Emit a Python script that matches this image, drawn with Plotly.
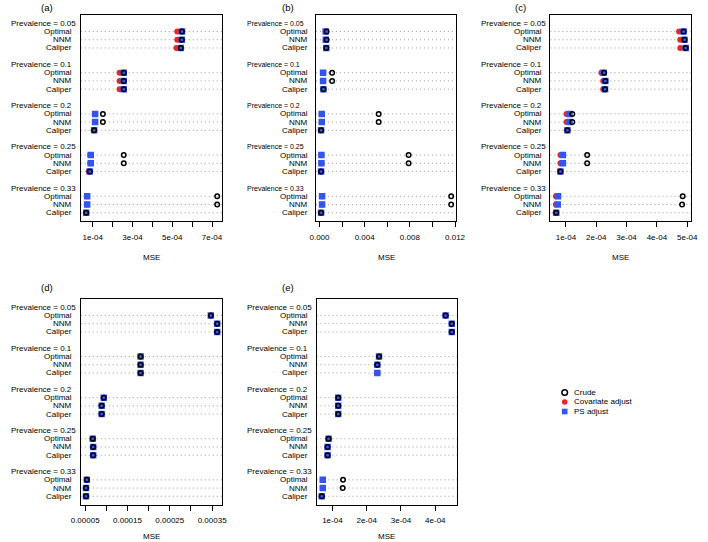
import plotly.graph_objects as go

W, H = 708, 542
FONT = "Liberation Sans, Arial, Helvetica, sans-serif"
RED = "#E62828"
BLUE = "#3355EE"
DOT = "#9a9a9a"

prevalence = ["0.05", "0.1", "0.2", "0.25", "0.33"]
methods = ["Optimal", "NNM", "Caliper"]
panel_labels = ["(a)", "(b)", "(c)", "(d)", "(e)"]
legend_names = ["Crude", "Covariate adjust", "PS adjust"]

# values: for each prevalence (top to bottom) -> Optimal, NNM, Caliper
a_crude = [5.49e-4, 5.48e-4, 5.43e-4, 2.56e-4, 2.56e-4, 2.56e-4, 1.51e-4, 1.51e-4, 1.07e-4,
           2.56e-4, 2.56e-4, 0.85e-4, 7.26e-4, 7.26e-4, 0.67e-4]
a_cov = [5.25e-4, 5.25e-4, 5.21e-4, 2.35e-4, 2.35e-4, 2.35e-4, 1.10e-4, 1.10e-4, 1.05e-4,
         0.87e-4, 0.87e-4, 0.80e-4, 0.70e-4, 0.70e-4, 0.66e-4]
a_ps = [5.49e-4, 5.48e-4, 5.43e-4, 2.56e-4, 2.56e-4, 2.56e-4, 1.12e-4, 1.12e-4, 1.07e-4,
        0.90e-4, 0.90e-4, 0.85e-4, 0.72e-4, 0.72e-4, 0.67e-4]

b_crude = [0.00063, 0.00063, 0.00060, 0.00112, 0.00112, 0.00035, 0.00524, 0.00524, 0.00014,
           0.00789, 0.00789, 0.00014, 0.01166, 0.01166, 0.00014]
b_cov = [0.00055, 0.00056, 0.00060, 0.00032, 0.00032, 0.00035, 0.00020, 0.00020, 0.00014,
         0.00017, 0.00017, 0.00014, 0.00023, 0.00023, 0.00014]
b_ps = [0.00055, 0.00056, 0.00060, 0.00032, 0.00032, 0.00035, 0.00020, 0.00020, 0.00014,
        0.00017, 0.00017, 0.00014, 0.00023, 0.00023, 0.00014]

c_crude = [4.88e-4, 4.91e-4, 4.95e-4, 2.26e-4, 2.30e-4, 2.29e-4, 1.21e-4, 1.21e-4, 1.05e-4,
           1.70e-4, 1.70e-4, 0.82e-4, 4.85e-4, 4.83e-4, 0.68e-4]
c_cov = [4.73e-4, 4.77e-4, 4.77e-4, 2.17e-4, 2.23e-4, 2.23e-4, 1.02e-4, 1.02e-4, 1.03e-4,
         0.82e-4, 0.82e-4, 0.80e-4, 0.67e-4, 0.67e-4, 0.66e-4]
c_ps = [4.88e-4, 4.91e-4, 4.95e-4, 2.24e-4, 2.30e-4, 2.29e-4, 1.12e-4, 1.12e-4, 1.05e-4,
        0.90e-4, 0.90e-4, 0.82e-4, 0.74e-4, 0.73e-4, 0.68e-4]

d_crude = [3.47e-4, 3.62e-4, 3.62e-4, 1.81e-4, 1.81e-4, 1.81e-4, 0.94e-4, 0.89e-4, 0.89e-4,
           0.68e-4, 0.69e-4, 0.69e-4, 0.54e-4, 0.52e-4, 0.52e-4]
d_cov = [3.47e-4, 3.62e-4, 3.62e-4, 1.81e-4, 1.81e-4, 1.81e-4, 0.94e-4, 0.89e-4, 0.89e-4,
         0.68e-4, 0.69e-4, 0.69e-4, 0.54e-4, 0.52e-4, 0.52e-4]
d_ps = [3.47e-4, 3.62e-4, 3.62e-4, 1.81e-4, 1.81e-4, 1.81e-4, 0.94e-4, 0.89e-4, 0.89e-4,
        0.68e-4, 0.69e-4, 0.69e-4, 0.54e-4, 0.52e-4, 0.52e-4]

e_crude = [4.30e-4, 4.48e-4, 4.48e-4, 2.36e-4, 2.31e-4, None, 1.17e-4, 1.17e-4, 1.17e-4,
           0.89e-4, 0.86e-4, 0.86e-4, 1.31e-4, 1.30e-4, 0.69e-4]
e_cov = [4.30e-4, 4.48e-4, 4.48e-4, 2.36e-4, 2.31e-4, 2.31e-4, 1.17e-4, 1.17e-4, 1.17e-4,
         0.89e-4, 0.86e-4, 0.86e-4, 0.72e-4, 0.72e-4, 0.69e-4]
e_ps = [4.30e-4, 4.48e-4, 4.48e-4, 2.36e-4, 2.31e-4, 2.31e-4, 1.17e-4, 1.17e-4, 1.17e-4,
        0.89e-4, 0.86e-4, 0.86e-4, 0.72e-4, 0.72e-4, 0.69e-4]

# tick values / labels
a_ticks = [1e-4, 2e-4, 3e-4, 4e-4, 5e-4, 6e-4, 7e-4]
a_ticklabels = ["1e-04", "", "3e-04", "", "5e-04", "", "7e-04"]
b_ticks = [0.0, 0.002, 0.004, 0.006, 0.008, 0.010, 0.012]
b_ticklabels = ["0.000", "", "0.004", "", "0.008", "", "0.012"]
c_ticks = [1e-4, 2e-4, 3e-4, 4e-4, 5e-4]
c_ticklabels = ["1e-04", "2e-04", "3e-04", "4e-04", "5e-04"]
d_ticks = [0.5e-4, 1e-4, 1.5e-4, 2e-4, 2.5e-4, 3e-4, 3.5e-4]
d_ticklabels = ["0.00005", "", "0.00015", "", "0.00025", "", "0.00035"]
e_ticks = [1e-4, 2e-4, 3e-4, 4e-4]
e_ticklabels = ["1e-04", "2e-04", "3e-04", "4e-04"]

panels = [
    (a_crude, a_cov, a_ps, a_ticks, a_ticklabels),
    (b_crude, b_cov, b_ps, b_ticks, b_ticklabels),
    (c_crude, c_cov, c_ps, c_ticks, c_ticklabels),
    (d_crude, d_cov, d_ps, d_ticks, d_ticklabels),
    (e_crude, e_cov, e_ps, e_ticks, e_ticklabels),
]

# layout geometry (pixels): left, right, top, bottom of each plot box
boxes = [
    (72.7, 218.3, 15, 221),
    (314.3, 458.7, 15, 221),
    (555.3, 699.7, 15, 221),
    (72.7, 218.3, 299, 504.5),
    (315.0, 459.3, 299, 504.5),
]
panel_label_pos = [(38, 7), (286, 7), (525, 7), (38, 287), (286, 287)]
title_y = [257, 257, 257, 536, 536]
group_font = [8, 7, 8, 8, 8]

# dotchart-style row positions (R dotchart: bottom group rows 1..3, header 4, gap)
ngroups = len(prevalence)
rows, headers = [], []
for gi in range(ngroups):
    k = ngroups - 1 - gi
    headers.append(5 * k + 4)
    for mi in range(len(methods)):
        rows.append(5 * k + 3 - mi)


def px(x):
    return x / W


def py(y):
    return 1 - y / H


fig = go.Figure()
layout = dict(
    width=W, height=H, margin=dict(l=0, r=0, t=0, b=0),
    plot_bgcolor="white", paper_bgcolor="white", showlegend=False,
    font=dict(family=FONT, size=8, color="black"),
)
annotations, shapes = [], []

for i, (crude, cov, ps, ticks, tlabels) in enumerate(panels):
    n = i + 1
    sfx = "" if n == 1 else str(n)
    xa, ya = f"x{sfx}", f"y{sfx}"
    l, r, t, b = boxes[i]
    vals = [v for v in crude + cov + ps if v is not None]
    lo, hi = min(vals), max(vals)
    pad = 0.04 * (hi - lo)
    layout[f"xaxis{sfx}"] = dict(
        domain=[px(l), px(r)], anchor=ya, range=[lo - pad, hi + pad],
        tickmode="array", tickvals=ticks, ticktext=tlabels,
        ticks="outside", ticklen=5, tickwidth=1, tickcolor="black",
        ticklabelstandoff=3,
        showline=True, linecolor="black", linewidth=1, mirror=True,
        showgrid=False, zeroline=False, tickfont=dict(size=8, family=FONT, color="black"),
    )
    layout[f"yaxis{sfx}"] = dict(
        domain=[py(b), py(t)], anchor=xa, range=[0, 25],
        showticklabels=False, ticks="", showline=True, linecolor="black",
        linewidth=1, mirror=True, showgrid=False, zeroline=False,
    )
    # dotted guide lines
    for yv in rows:
        shapes.append(dict(type="line", xref=f"{xa} domain", yref=ya, x0=0, x1=1,
                           y0=yv, y1=yv, layer="below",
                           line=dict(color=DOT, width=1, dash="1px,3px")))
    # series
    fig.add_trace(go.Scatter(x=cov, y=rows, mode="markers", xaxis=xa, yaxis=ya,
                             name=legend_names[1],
                             marker=dict(symbol="circle", size=6, color=RED)))
    fig.add_trace(go.Scatter(x=ps, y=rows, mode="markers", xaxis=xa, yaxis=ya,
                             name=legend_names[2],
                             marker=dict(symbol="square", size=6.5, color=BLUE)))
    fig.add_trace(go.Scatter(x=crude, y=rows, mode="markers", xaxis=xa, yaxis=ya,
                             name=legend_names[0],
                             marker=dict(symbol="circle-open", size=4.5,
                                         color="black", line=dict(width=1.5))))
    # item labels
    idx = 0
    for gi in range(ngroups):
        annotations.append(dict(text=f"Prevalence = {prevalence[gi]}", xref="paper", yref=ya,
                                x=px(l - 73.3), y=headers[gi], xanchor="left", yanchor="middle",
                                showarrow=False, font=dict(size=group_font[i])))
        for m in methods:
            annotations.append(dict(text=m, xref="paper", yref=ya, x=px(l - 6.5), y=rows[idx],
                                    xanchor="right", yanchor="middle", showarrow=False,
                                    font=dict(size=8)))
            idx += 1
    # axis title
    annotations.append(dict(text="MSE", xref="paper", yref="paper", x=px((l + r) / 2),
                            y=py(title_y[i]), xanchor="center", yanchor="middle",
                            showarrow=False, font=dict(size=8)))
    # panel label
    plx, ply = panel_label_pos[i]
    annotations.append(dict(text=panel_labels[i], xref="paper", yref="paper", x=px(plx),
                            y=py(ply), xanchor="center", yanchor="middle",
                            showarrow=False, font=dict(size=9.5)))

# legend (drawn manually)
leg_x, leg_y0, leg_dy = 570, 392.5, 9.5
leg_shapes = [
    dict(type="circle", line=dict(color="black", width=1.5), fillcolor="rgba(0,0,0,0)"),
    dict(type="circle", line=dict(width=0), fillcolor=RED),
    dict(type="rect", line=dict(width=0), fillcolor=BLUE),
]
for k, (name, sh) in enumerate(zip(legend_names, leg_shapes)):
    yk = leg_y0 + k * leg_dy
    s = dict(sh)
    s.update(xref="paper", yref="paper", xsizemode="pixel", ysizemode="pixel",
             xanchor=px(leg_x), yanchor=py(yk), x0=-2.8, x1=2.8, y0=-2.8, y1=2.8)
    shapes.append(s)
    annotations.append(dict(text=name, xref="paper", yref="paper", x=px(leg_x + 7),
                            y=py(yk), xanchor="left", yanchor="middle",
                            showarrow=False, font=dict(size=8)))

layout["annotations"] = annotations
layout["shapes"] = shapes
fig.update_layout(**layout)
fig.write_html("out.html", config={"displayModeBar": False, "staticPlot": True},
               post_script="document.body.style.margin='0px';document.body.style.padding='0px';")
